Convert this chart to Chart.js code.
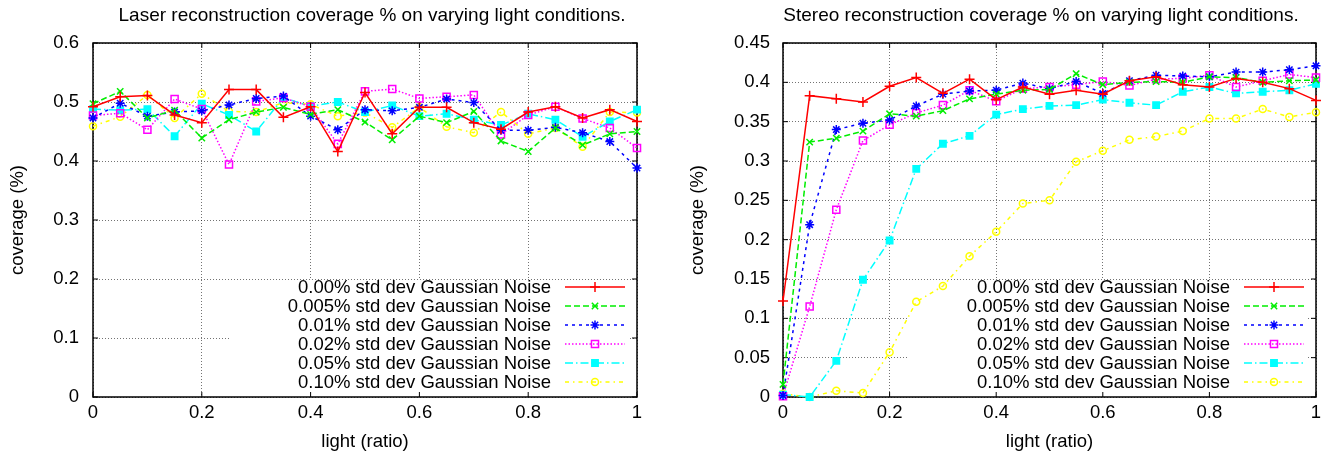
<!DOCTYPE html>
<html>
<head>
<meta charset="utf-8">
<script src="https://cdn.jsdelivr.net/npm/chart.js@4.4.1/dist/chart.umd.min.js"></script>
<style>
  html, body { margin: 0; padding: 0; background: #fff; }
  #wrap { display: flex; width: 1327px; height: 460px; }
  canvas { display: block; }
</style>
</head>
<body>
<div id="wrap">
  <canvas id="laser" width="663" height="460"></canvas>
  <canvas id="stereo" width="664" height="460"></canvas>
</div>
<script>
// light ratio (x)
const lightRatio = [0, 0.05, 0.1, 0.15, 0.2, 0.25, 0.3, 0.35, 0.4, 0.45, 0.5,
                    0.55, 0.6, 0.65, 0.7, 0.75, 0.8, 0.85, 0.9, 0.95, 1];

const seriesLabels = [
  "0.00% std dev Gaussian Noise",
  "0.005% std dev Gaussian Noise",
  "0.01% std dev Gaussian Noise",
  "0.02% std dev Gaussian Noise",
  "0.05% std dev Gaussian Noise",
  "0.10% std dev Gaussian Noise",
];

// laser coverage
const laser000  = [0.492, 0.509, 0.511, 0.478, 0.465, 0.521, 0.521, 0.474, 0.492, 0.416, 0.516,
                   0.446, 0.491, 0.491, 0.465, 0.454, 0.483, 0.492, 0.473, 0.487, 0.467];
const laser0005 = [0.497, 0.518, 0.473, 0.486, 0.439, 0.470, 0.483, 0.491, 0.479, 0.487, 0.466,
                   0.436, 0.476, 0.465, 0.484, 0.434, 0.416, 0.456, 0.427, 0.446, 0.450];
const laser001  = [0.473, 0.498, 0.476, 0.483, 0.485, 0.495, 0.506, 0.510, 0.476, 0.453, 0.487,
                   0.485, 0.491, 0.505, 0.499, 0.452, 0.452, 0.457, 0.448, 0.433, 0.388];
const laser002  = [0.477, 0.481, 0.453, 0.505, 0.488, 0.394, 0.501, 0.507, 0.492, 0.429, 0.518,
                   0.522, 0.506, 0.509, 0.512, 0.445, 0.478, 0.492, 0.472, 0.456, 0.422];
const laser005  = [0.488, 0.486, 0.488, 0.442, 0.497, 0.478, 0.450, 0.507, 0.493, 0.500, 0.483,
                   0.494, 0.476, 0.480, 0.470, 0.461, 0.480, 0.470, 0.441, 0.467, 0.487];
const laser010  = [0.459, 0.475, 0.512, 0.473, 0.514, 0.484, 0.483, 0.499, 0.496, 0.476, 0.482,
                   0.457, 0.491, 0.458, 0.448, 0.483, 0.446, 0.456, 0.424, 0.483, 0.482];

// stereo coverage
const stereo000  = [0.122, 0.383, 0.379, 0.375, 0.395, 0.406, 0.386, 0.404, 0.378, 0.394, 0.385,
                    0.390, 0.385, 0.402, 0.407, 0.397, 0.394, 0.405, 0.400, 0.392, 0.377];
const stereo0005 = [0.016, 0.324, 0.329, 0.338, 0.360, 0.357, 0.364, 0.379, 0.385, 0.390, 0.391,
                    0.411, 0.397, 0.400, 0.401, 0.400, 0.407, 0.406, 0.400, 0.402, 0.403];
const stereo001  = [0.002, 0.219, 0.340, 0.348, 0.352, 0.370, 0.385, 0.389, 0.390, 0.399, 0.392,
                    0.401, 0.386, 0.402, 0.409, 0.408, 0.407, 0.413, 0.413, 0.416, 0.421];
const stereo002  = [0.001, 0.115, 0.238, 0.326, 0.346, 0.361, 0.371, 0.390, 0.376, 0.392, 0.394,
                    0.397, 0.401, 0.396, 0.404, 0.405, 0.409, 0.394, 0.402, 0.410, 0.406];
const stereo005  = [0.003, 0.000, 0.046, 0.149, 0.199, 0.290, 0.322, 0.332, 0.359, 0.366, 0.370,
                    0.371, 0.378, 0.374, 0.371, 0.388, 0.394, 0.386, 0.388, 0.390, 0.398];
const stereo010  = [0.004, 0.000, 0.008, 0.005, 0.057, 0.121, 0.141, 0.179, 0.210, 0.246, 0.250,
                    0.299, 0.313, 0.327, 0.331, 0.338, 0.354, 0.354, 0.366, 0.356, 0.362];

const FONT = '"Liberation Sans", Arial, sans-serif';

// gnuplot postscript-like line types
const styles = [
  { color: "#ff0000", dash: [],              point: "cross",    r: 5,   fill: false },
  { color: "#00ee00", dash: [6, 3],          point: "crossRot", r: 4.5, fill: false },
  { color: "#0000ff", dash: [3, 4],          point: "star",     r: 4.5, fill: false },
  { color: "#ff00ff", dash: [1.5, 2],        point: "rect",     r: 5,   fill: false },
  { color: "#00ffff", dash: [8, 3, 1.5, 3],  point: "rect",     r: 4.5, fill: true },
  { color: "#ffff00", dash: [4, 4, 1.5, 4],  point: "circle",   r: 3.5, fill: false },
];

function makeDatasets(series) {
  return series.map((vals, i) => {
    const s = styles[i];
    return {
      label: seriesLabels[i],
      data: vals.map((v, k) => ({ x: lightRatio[k], y: v })),
      borderColor: s.color,
      borderWidth: 1.5,
      borderDash: s.dash,
      pointStyle: s.point,
      pointRadius: s.r,
      pointBorderWidth: 1.5,
      pointBorderColor: s.color,
      pointBackgroundColor: s.fill ? s.color : "rgba(0,0,0,0)",
      tension: 0,
      clip: false,
    };
  });
}

// frame, ticks, key and title in gnuplot style
const gnuplotLook = {
  id: "gnuplotLook",
  beforeDatasetsDraw(chart, args, opts) {
    const { ctx, chartArea: a, scales } = chart;
    ctx.save();
    // key box hides the grid
    ctx.fillStyle = "#fff";
    ctx.fillRect(a.right - 408, a.bottom - 117, 399, 116);

    // frame
    ctx.strokeStyle = "#000";
    ctx.lineWidth = 1.5;
    ctx.strokeRect(a.left, a.top, a.right - a.left, a.bottom - a.top);

    // inward ticks on all sides
    ctx.lineWidth = 1;
    ctx.beginPath();
    scales.x.ticks.forEach(t => {
      const px = scales.x.getPixelForValue(t.value);
      ctx.moveTo(px, a.bottom); ctx.lineTo(px, a.bottom - 5);
      ctx.moveTo(px, a.top); ctx.lineTo(px, a.top + 5);
    });
    scales.y.ticks.forEach(t => {
      const py = scales.y.getPixelForValue(t.value);
      ctx.moveTo(a.left, py); ctx.lineTo(a.left + 5, py);
      ctx.moveTo(a.right, py); ctx.lineTo(a.right - 5, py);
    });
    ctx.stroke();

    // key
    ctx.font = "18.5px " + FONT;
    ctx.textAlign = "right";
    ctx.textBaseline = "middle";
    chart.data.datasets.forEach((ds, i) => {
      const y = a.bottom - 110 + i * 19;
      ctx.fillStyle = "#000";
      ctx.fillText(ds.label, a.right - 86, y + 1);
      ctx.strokeStyle = ds.borderColor;
      ctx.lineWidth = ds.borderWidth;
      ctx.setLineDash(ds.borderDash);
      ctx.beginPath();
      ctx.moveTo(a.right - 72, y);
      ctx.lineTo(a.right - 12, y);
      ctx.stroke();
      ctx.setLineDash([]);
      ctx.fillStyle = ds.pointBackgroundColor;
      ctx.lineWidth = ds.pointBorderWidth;
      Chart.helpers.drawPoint(ctx, {
        pointStyle: ds.pointStyle, radius: ds.pointRadius,
        borderWidth: ds.pointBorderWidth, rotation: 0
      }, a.right - 42, y);
    });
    ctx.restore();
  },
  afterDraw(chart, args, opts) {
    const { ctx } = chart;
    ctx.save();
    ctx.font = "19px " + FONT;
    ctx.fillStyle = "#000";
    ctx.textAlign = "center";
    ctx.textBaseline = "middle";
    ctx.fillText(opts.text, opts.x, 16);
    ctx.restore();
  }
};

function makeChart(id, series, yMax, yStep, cfg) {
  return new Chart(document.getElementById(id), {
    type: "line",
    data: { datasets: makeDatasets(series) },
    plugins: [gnuplotLook],
    options: {
      responsive: false,
      animation: false,
      events: [],
      layout: { padding: { top: 43, right: cfg.padRight, left: 0, bottom: 0 } },
      plugins: {
        legend: { display: false },
        tooltip: { enabled: false },
        gnuplotLook: { text: cfg.title, x: cfg.titleX },
      },
      scales: {
        x: {
          type: "linear",
          min: 0, max: 1,
          afterFit: s => { s.height = 63; },
          ticks: {
            stepSize: 0.2, padding: 5, color: "#000",
            font: { family: FONT, size: 18.5 },
            callback: v => String(+v.toFixed(2)),
          },
          grid: { color: "rgba(0,0,0,0.55)", lineWidth: 1, drawTicks: false },
          border: { display: false, dash: [1, 2] },
          title: {
            display: true, text: "light (ratio)", color: "#000",
            font: { family: FONT, size: 18.5 }, padding: { bottom: 7 },
          },
        },
        y: {
          min: 0, max: yMax,
          afterFit: s => { s.width = cfg.yWidth; },
          ticks: {
            stepSize: yStep, padding: cfg.yTickPad, color: "#000",
            font: { family: FONT, size: 18.5 },
            callback: v => String(+v.toFixed(2)),
          },
          grid: { color: "rgba(0,0,0,0.55)", lineWidth: 1, drawTicks: false },
          border: { display: false, dash: [1, 2] },
          title: {
            display: true, text: "coverage (%)", color: "#000",
            font: { family: FONT, size: 18.5 }, padding: { top: cfg.yTitlePad },
          },
        },
      },
    },
  });
}

makeChart("laser", [laser000, laser0005, laser001, laser002, laser005, laser010], 0.6, 0.1, {
  title: "Laser reconstruction coverage % on varying light conditions.",
  titleX: 372, padRight: 26, yWidth: 93, yTickPad: 14, yTitlePad: 7,
});

makeChart("stereo", [stereo000, stereo0005, stereo001, stereo002, stereo005, stereo010], 0.45, 0.05, {
  title: "Stereo reconstruction coverage % on varying light conditions.",
  titleX: 378, padRight: 11, yWidth: 120, yTickPad: 13, yTitlePad: 24,
});
</script>
</body>
</html>
